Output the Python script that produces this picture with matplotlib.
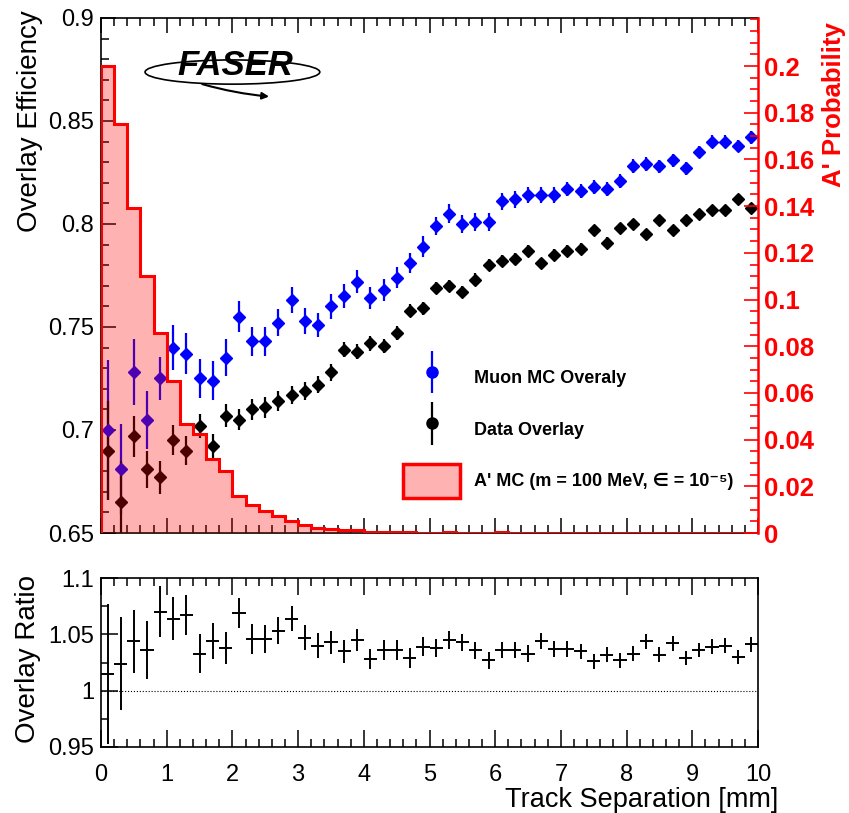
import numpy as np
import matplotlib
matplotlib.use('Agg')
import matplotlib.pyplot as plt
from matplotlib.ticker import MultipleLocator, FuncFormatter
from matplotlib.patches import Patch, Ellipse
from matplotlib.container import ErrorbarContainer
from matplotlib.legend_handler import HandlerErrorbar

plt.rcParams['font.family'] = ['Liberation Sans', 'DejaVu Sans']

# 50 bins of 0.2 mm
edges = np.linspace(0, 10, 51)
centers = 0.5 * (edges[1:] + edges[:-1])

# Muon MC overlay efficiency (blue)
mc_eff = [0.700, 0.681, 0.728, 0.705, 0.725, 0.740, 0.737, 0.725, 0.724, 0.735,
          0.755, 0.743, 0.743, 0.752, 0.763, 0.753, 0.751, 0.760, 0.765, 0.772,
          0.764, 0.768, 0.774, 0.781, 0.789, 0.799, 0.805, 0.800, 0.801, 0.801,
          0.811, 0.812, 0.814, 0.814, 0.814, 0.817, 0.816, 0.818, 0.817, 0.821,
          0.828, 0.829, 0.828, 0.831, 0.827, 0.835, 0.840, 0.840, 0.838, 0.842]
mc_err = [0.034, 0.022, 0.016, 0.014, 0.0105, 0.011, 0.010, 0.0097, 0.0095, 0.009,
          0.0075, 0.0072, 0.007, 0.0065, 0.0063, 0.0062, 0.006, 0.006, 0.006, 0.0055,
          0.0055, 0.0052, 0.005, 0.005, 0.005, 0.0045, 0.0045, 0.0045, 0.0042, 0.0042,
          0.004, 0.004, 0.004, 0.0038, 0.0038, 0.0036, 0.0036, 0.0035, 0.0035, 0.0034,
          0.0033, 0.0033, 0.0032, 0.0032, 0.0031, 0.003, 0.003, 0.003, 0.003, 0.003]

# Data overlay efficiency (black)
data_eff = [0.690, 0.665, 0.697, 0.681, 0.677, 0.695, 0.690, 0.702, 0.692, 0.707,
            0.705, 0.710, 0.711, 0.714, 0.717, 0.719, 0.722, 0.728, 0.739, 0.738,
            0.742, 0.741, 0.747, 0.758, 0.759, 0.769, 0.770, 0.767, 0.773, 0.780,
            0.782, 0.783, 0.787, 0.781, 0.785, 0.787, 0.788, 0.797, 0.791, 0.798,
            0.800, 0.795, 0.802, 0.797, 0.802, 0.805, 0.807, 0.807, 0.812, 0.808]
data_err = [0.024, 0.020, 0.010, 0.009, 0.008, 0.0073, 0.007, 0.006, 0.006, 0.0055,
            0.005, 0.005, 0.005, 0.0047, 0.0045, 0.0043, 0.004, 0.004, 0.0038, 0.0036,
            0.0035, 0.0034, 0.0033, 0.0032, 0.0031, 0.003, 0.003, 0.003, 0.003, 0.003,
            0.0028, 0.0028, 0.0028, 0.0027, 0.0027, 0.0026, 0.0026, 0.0026, 0.0025, 0.0025,
            0.0025, 0.0025, 0.0024, 0.0024, 0.0024, 0.0023, 0.0023, 0.0023, 0.0023, 0.0023]

# A' MC signal probability per bin (right axis)
aprime_prob = [0.200, 0.175, 0.139, 0.110, 0.0855, 0.065, 0.0467, 0.0423, 0.0316, 0.0266,
               0.0157, 0.0121, 0.0093, 0.0071, 0.0050, 0.0036, 0.0021, 0.0019, 0.0013, 0.0011,
               0.0006, 0.0005, 0.0003, 0.0003, 0.0002, 0.0002, 0.0003, 0.0002, 0.0002, 0.0002,
               0.0003, 0.0002, 0.0002, 0.0001, 0.0002, 0.0002, 0.0001, 0.0002, 0.0001, 0.0001,
               0.0002, 0.0001, 0.0001, 0.0001, 0.0002, 0.0001, 0.0002, 0.0001, 0.0001, 0.0001]

# MC / Data ratio
ratio = [1.015, 1.024, 1.044, 1.036, 1.070, 1.064, 1.067, 1.033, 1.044, 1.038,
         1.069, 1.046, 1.046, 1.053, 1.064, 1.047, 1.040, 1.043, 1.035, 1.045,
         1.028, 1.036, 1.036, 1.029, 1.039, 1.038, 1.045, 1.043, 1.036, 1.027,
         1.036, 1.036, 1.033, 1.044, 1.037, 1.037, 1.035, 1.026, 1.032, 1.027,
         1.033, 1.044, 1.032, 1.042, 1.029, 1.036, 1.039, 1.040, 1.030, 1.041]
ratio_err = [0.062, 0.041, 0.028, 0.026, 0.0225, 0.019, 0.018, 0.017, 0.016, 0.0145,
             0.0137, 0.013, 0.0125, 0.012, 0.011, 0.011, 0.011, 0.010, 0.010, 0.0095,
             0.009, 0.009, 0.009, 0.0085, 0.0085, 0.0078, 0.0078, 0.0076, 0.0075, 0.0075,
             0.0074, 0.0073, 0.0072, 0.0071, 0.007, 0.007, 0.0068, 0.0068, 0.0067, 0.0067,
             0.0066, 0.0066, 0.0066, 0.0065, 0.0065, 0.0065, 0.0065, 0.0065, 0.0065, 0.0065]

fig = plt.figure(figsize=(8.49, 8.13), dpi=100)
ax = fig.add_axes([0.119, 0.3444, 0.7738, 0.6335])
axr = fig.add_axes([0.119, 0.0812, 0.7738, 0.2078], sharex=ax)

fmt_g = FuncFormatter(lambda v, _: f'{v:g}')

# --- top panel: efficiencies
ax.errorbar(centers, mc_eff, yerr=mc_err, fmt='D', color='blue', ms=6.5,
            elinewidth=1.6, capsize=0, zorder=3)
ax.errorbar(centers, data_eff, yerr=data_err, fmt='D', color='black', ms=6.5,
            elinewidth=1.6, capsize=0, zorder=3)
ax.set_xlim(0, 10)
ax.set_ylim(0.65, 0.9)
ax.xaxis.set_major_locator(MultipleLocator(1))
ax.xaxis.set_minor_locator(MultipleLocator(0.2))
ax.yaxis.set_major_locator(MultipleLocator(0.05))
ax.yaxis.set_minor_locator(MultipleLocator(0.01))
ax.yaxis.set_major_formatter(fmt_g)
ax.tick_params(which='both', direction='in', top=True, right=False, labelbottom=False,
               labelsize=17, width=1.1)
ax.tick_params(which='major', length=11, pad=5)
ax.tick_params(which='minor', length=6)
ax.spines['right'].set_visible(False)
for s in ['left', 'top', 'bottom']:
    ax.spines[s].set_linewidth(1.2)

# A' histogram on the right axis, drawn over the points
ax2 = ax.twinx()
ax2.stairs(aprime_prob, edges, fill=True, color=(1, 0, 0, 0.3), lw=0)
ax2.stairs(aprime_prob, edges, color='red', lw=2.2)
ax2.set_ylim(0, 0.2206)
ax2.set_yticks(np.arange(0, 0.201, 0.02))
ax2.yaxis.set_minor_locator(MultipleLocator(0.005))
ax2.yaxis.set_major_formatter(fmt_g)
ax2.tick_params(axis='y', which='both', direction='in', colors='red', labelsize=18.5, width=1.2, pad=4)
ax2.tick_params(axis='y', which='major', length=10)
ax2.tick_params(axis='y', which='minor', length=6)
plt.setp(ax2.get_yticklabels(), fontweight='bold')
for s in ['left', 'top', 'bottom']:
    ax2.spines[s].set_visible(False)
ax2.spines['right'].set_color('red')
ax2.spines['right'].set_linewidth(1.8)

# legend
h_mc = ax.errorbar([], [], yerr=[], fmt='o', color='blue', ms=8, elinewidth=1.6)
h_data = ax.errorbar([], [], yerr=[], fmt='o', color='black', ms=8, elinewidth=1.6)
h_ap = Patch(facecolor=(1, 0, 0, 0.3), edgecolor='red', lw=2.5)
ax2.legend([h_mc, h_data, h_ap],
           ['Muon MC Overaly', 'Data Overlay', "A' MC (m = 100 MeV, \u2208 = 10\u207b\u2075)"],
           loc='upper left', bbox_to_anchor=(0.46, 0.335), frameon=False,
           borderpad=0, borderaxespad=0, handlelength=3.15, handleheight=2.5,
           handletextpad=0.75, labelspacing=1.0,
           prop={'family': ['Liberation Sans', 'DejaVu Sans'], 'weight': 'bold', 'size': 13},
           handler_map={ErrorbarContainer: HandlerErrorbar(yerr_size=1.17)})

# FASER logo
ax2.add_patch(Ellipse((0.2, 0.895), 0.266, 0.047, transform=ax2.transAxes,
                      fill=False, ec='black', lw=1.2))
ax2.text(0.205, 0.907, 'FASER', transform=ax2.transAxes, ha='center', va='center',
         fontsize=25, fontweight='heavy', style='italic', color='black')
ax2.annotate('', xy=(0.26, 0.847), xytext=(0.15, 0.873), xycoords='axes fraction',
             arrowprops=dict(arrowstyle='-|>', color='black', lw=1.5,
                             connectionstyle='arc3,rad=0.05'))

# --- bottom panel: ratio
axr.errorbar(centers, ratio, xerr=0.1, yerr=ratio_err, fmt='none', ecolor='black',
             elinewidth=1.4, capsize=0)
axr.axhline(1.0, color='black', lw=0.8, ls=':')
axr.set_ylim(0.95, 1.1)
axr.yaxis.set_major_locator(MultipleLocator(0.05))
axr.yaxis.set_minor_locator(MultipleLocator(0.025))
axr.yaxis.set_major_formatter(fmt_g)
axr.xaxis.set_major_formatter(fmt_g)
axr.tick_params(which='both', direction='in', top=True, labelsize=17, width=1.1)
axr.tick_params(which='major', length=12, pad=5)
axr.tick_params(axis='x', which='major', pad=12)
axr.tick_params(which='minor', length=6)
for s in axr.spines.values():
    s.set_linewidth(1.2)

# axis titles
fig.text(30 / 849, 1 - 10 / 813, 'Overlay Efficiency', rotation=90, ha='center', va='top', fontsize=20)
fig.text(28 / 849, 1 - 575 / 813, 'Overlay Ratio', rotation=90, ha='center', va='top', fontsize=20)
fig.text(778 / 849, 1 - 800 / 813, 'Track Separation [mm]', ha='right', va='center', fontsize=19.5)
fig.text(834 / 849, 1 - 22 / 813, "A' Probability", rotation=90, ha='center', va='top',
         fontsize=18.5, fontweight='bold', color='red')

fig.savefig('out.png', dpi=100)
